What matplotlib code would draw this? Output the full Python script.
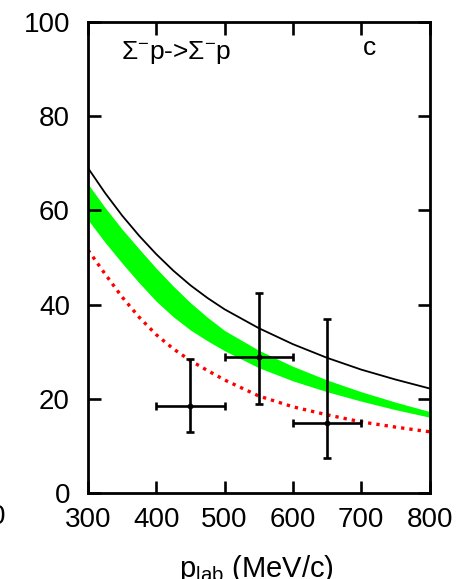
import numpy as np
import matplotlib
matplotlib.use('Agg')
import matplotlib.pyplot as plt

plt.rcParams['font.family'] = ['Liberation Sans', 'DejaVu Sans']
plt.rcParams['mathtext.fontset'] = 'custom'
plt.rcParams['mathtext.rm'] = 'Liberation Sans'
plt.rcParams['mathtext.it'] = 'Liberation Sans:italic'

# curves
p_grid = [300, 325, 350, 375, 400, 425, 450, 475, 500, 550, 600, 650, 700, 750, 800]
black_curve = [69.0, 63.7, 58.9, 54.6, 50.7, 47.2, 44.1, 41.4, 39.0, 35.0, 31.6, 28.7, 26.2, 24.1, 22.2]
band_top = [65.6, 60.6, 56.0, 51.8, 47.7, 43.9, 40.4, 37.3, 34.5, 30.3, 26.9, 24.0, 21.5, 19.3, 17.3]
band_bottom = [58.0, 53.2, 48.8, 44.6, 40.7, 37.4, 34.6, 32.3, 30.2, 26.6, 23.8, 21.5, 19.5, 17.7, 16.1]
red_curve = [51.6, 46.5, 41.6, 37.3, 33.6, 30.6, 28.1, 26.0, 24.0, 20.6, 18.3, 16.6, 15.1, 14.0, 13.0]

# data points
p_data = [450, 550, 650]
sigma_data = [18.5, 28.9, 14.9]
p_err = [50, 50, 50]
sig_lo = [5.5, 10.0, 7.5]
sig_hi = [9.9, 13.5, 22.1]

x_ticks = [300, 400, 500, 600, 700, 800]
y_ticks = [0, 20, 40, 60, 80, 100]

fig = plt.figure(figsize=(4.61, 5.79), dpi=100)
ax = fig.add_axes([88 / 461, 86 / 579, 341.5 / 461, 471 / 579])

ax.fill_between(p_grid, band_bottom, band_top, color='#00ff00', lw=0, zorder=1)
ax.plot(p_grid, black_curve, color='black', lw=1.3, zorder=2)
ax.plot(p_grid, red_curve, color='#ff0000', lw=2.4, ls=(0, (1.0, 1.5)), zorder=2)
ax.errorbar(p_data, sigma_data, xerr=p_err, yerr=[sig_lo, sig_hi], fmt='o',
            color='black', ms=3.2, elinewidth=1.9, capsize=2.6, capthick=1.9, zorder=3)

ax.set_xlim(300, 800)
ax.set_ylim(0, 100)
ax.set_xticks(x_ticks)
ax.set_yticks(y_ticks)
ax.tick_params(direction='in', length=9, width=1.9, labelsize=20,
               top=True, right=True)
ax.tick_params(axis='y', pad=13)
ax.tick_params(axis='x', pad=10)
for s in ax.spines.values():
    s.set_linewidth(2.0)

# x label sits low, partly cut by the bottom edge as in the source
fig.text(256 / 461, 1 - 577 / 579, 'p$_{\\mathrm{lab}}$ (MeV/c)', fontsize=21,
         ha='center', va='baseline')

ax.text(349, 92.1, 'Σ$^{-}$p->Σ$^{-}$p', fontsize=19, va='baseline', ha='left')
ax.text(712, 93.0, 'c', fontsize=19, va='baseline', ha='center')

# piece of the neighbouring panel's tick label, cut at the left edge
fig.text(6 / 461, 1 - 517 / 579, '800', fontsize=20, ha='right', va='center')

fig.savefig('out.png', dpi=100)
